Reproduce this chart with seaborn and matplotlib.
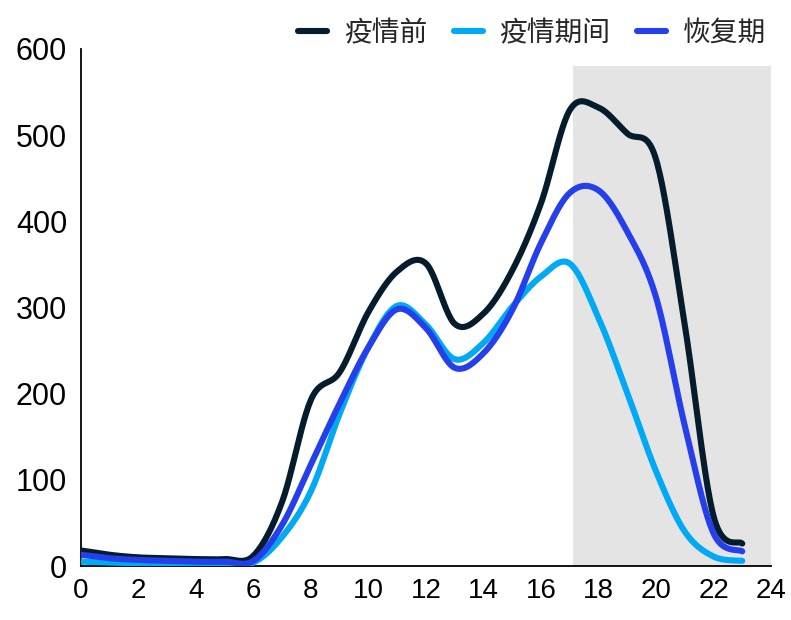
import numpy as np
import pandas as pd
import matplotlib
matplotlib.use("Agg")
import matplotlib.pyplot as plt
import seaborn as sns

# Hourly values (hour of day 0-23)
hours = list(range(24))
pre_pandemic = [18, 13, 10, 9, 8, 8, 12, 75, 193, 225, 295, 342,
                351, 281, 293, 343, 421, 529, 532, 502, 472, 280, 58, 26]
during_pandemic = [5, 4, 3, 3, 3, 3, 4, 34, 87, 177, 254, 302,
                   280, 240, 259, 301, 336, 351, 288, 201, 110, 40, 11, 6]
recovery = [13, 9, 7, 6, 5, 5, 6, 48, 118, 189, 254, 298,
            276, 230, 247, 297, 375, 433, 436, 388, 312, 163, 38, 17]

series_names = ["疫情前", "疫情期间", "恢复期"]
series_values = [pre_pandemic, during_pandemic, recovery]
colors = ["#051c2c", "#00a9f4", "#2540ea"]

x_ticks = list(range(0, 25, 2))
y_ticks = list(range(0, 601, 100))
highlight_start, highlight_end, highlight_top = 17.1, 24, 580


def smooth_curve(x, y, steps=24):
    """Cubic Bezier smoothing through the points (Catmull-Rom tangents)."""
    x = np.asarray(x, float)
    y = np.asarray(y, float)
    px = np.concatenate([[x[0]], x, [x[-1]]])
    py = np.concatenate([[y[0]], y, [y[-1]]])
    xs, ys = [], []
    n = len(x)
    for i in range(n - 1):
        p0 = np.array([px[i], py[i]])
        p1 = np.array([px[i + 1], py[i + 1]])
        p2 = np.array([px[i + 2], py[i + 2]])
        p3 = np.array([px[i + 3], py[i + 3]])
        c1 = p1 + (p2 - p0) / 6.0
        c2 = p2 - (p3 - p1) / 6.0
        t = np.linspace(0, 1, steps, endpoint=(i == n - 2))[:, None]
        pts = ((1 - t) ** 3) * p1 + 3 * ((1 - t) ** 2) * t * c1 \
            + 3 * (1 - t) * t ** 2 * c2 + t ** 3 * p2
        xs.append(pts[:, 0])
        ys.append(pts[:, 1])
    return np.concatenate(xs), np.concatenate(ys)


frames = []
for name, vals in zip(series_names, series_values):
    sx, sy = smooth_curve(hours, vals)
    frames.append(pd.DataFrame({"hour": sx, "value": sy, "period": name}))
df = pd.concat(frames, ignore_index=True)

sns.set_theme(style="white")
plt.rcParams["font.family"] = ["Liberation Sans", "DejaVu Sans"]

fig = plt.figure(figsize=(7.91, 6.2), dpi=100)
ax = fig.add_axes([81 / 791, 54 / 620, 690 / 791, 517 / 620])

ax.axvspan(highlight_start, highlight_end, ymin=0, ymax=highlight_top / 600,
           color="#e4e4e4", lw=0, zorder=0)

sns.lineplot(data=df, x="hour", y="value", hue="period",
             hue_order=series_names, palette=colors, estimator=None,
             sort=False, linewidth=4.4, ax=ax, zorder=3)
for line in ax.get_lines():
    line.set_solid_capstyle("round")
    line.set_solid_joinstyle("round")

ax.set_xlim(0, 24)
ax.set_ylim(0, 600)
ax.set_xticks(x_ticks)
ax.set_yticks(y_ticks)
ax.set_xlabel("")
ax.set_ylabel("")
ax.grid(False)

for side in ["top", "right"]:
    ax.spines[side].set_visible(False)
for side in ["left", "bottom"]:
    ax.spines[side].set_color("#000000")
    ax.spines[side].set_linewidth(1.3)
ax.tick_params(axis="both", length=0, colors="#000000")
ax.tick_params(axis="y", pad=10)
ax.tick_params(axis="x", pad=9)
for lab in ax.get_yticklabels():
    lab.set_fontsize(22)
    lab.set_color("#000000")
for lab in ax.get_xticklabels():
    lab.set_fontsize(20)
    lab.set_color("#000000")

handles, labels = ax.get_legend_handles_labels()
ax.get_legend().remove()
for h in handles:
    h.set_solid_capstyle("round")
    h.set_linewidth(4.4)
fig.legend(handles, labels, loc="upper right", bbox_to_anchor=(784 / 791, 1.0),
           ncol=3, frameon=False, handlelength=1.05, handletextpad=0.6,
           columnspacing=0.95, borderaxespad=0.25,
           prop={"family": ["Noto Sans CJK SC", "DejaVu Sans"], "size": 20})

fig.savefig("out.png", dpi=100)
